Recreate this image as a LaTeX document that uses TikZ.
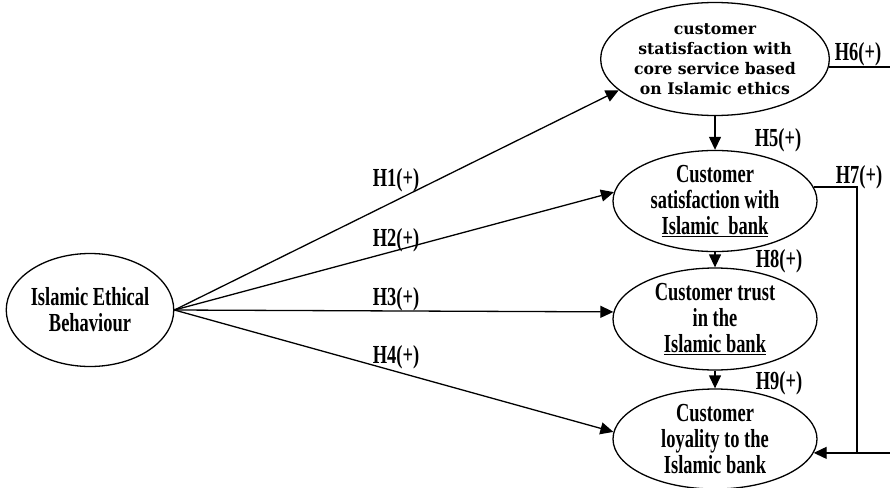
\documentclass[tikz,border=0pt]{standalone}
\usepackage{fontspec}
\newfontfamily\labelfont{Liberation Serif Bold}[FakeStretch=0.71]
\newfontfamily\widefont{DejaVu Serif Bold}[FakeStretch=0.98]
\usetikzlibrary{arrows.meta,shapes.geometric}

\tikzset{
  construct/.style={draw, ellipse, line width=1.3pt, inner sep=0pt, align=center,
    minimum width=204pt, font=\labelfont\fontsize{26}{26}\selectfont},
  hypo/.style={inner sep=0pt, font=\labelfont\fontsize{26}{26}\selectfont},
  link/.style={line width=1.3pt, -{Triangle[length=13pt,width=12pt]}},
  plain/.style={line width=1.3pt}
}

\begin{document}
\begin{tikzpicture}[x=1pt,y=-1pt]
			%%%%% FRAME %%%%%
			\path[use as bounding box] (0,0) rectangle (890,487);
			\clip (0,0) rectangle (890,487);
			
			%%%%% CONSTRUCTS %%%%%
			\node[construct, minimum width=164pt, minimum height=113pt] (ieb) at (90,310) {Islamic Ethical\\Behaviour};
			
			\node[construct, minimum height=113pt, font=\widefont\fontsize{16}{20}\selectfont] (core) at (715,59)
				{customer\\statisfaction with\\core service based\\on Islamic ethics};
			\node[construct, minimum height=96pt] (sat) at (715,201) {Customer\\satisfaction with\\\underline{Islamic\ \ bank}};
			\node[construct, minimum height=102pt] (trust) at (715,319) {Customer trust\\in the\\\underline{Islamic bank}};
			\node[construct, minimum height=100pt] (loyal) at (715,439) {Customer\\loyality to the\\Islamic bank};
			
			%%%%% DIRECT PATHS %%%%%
			\draw[link] (ieb.east) -- (core.198);
			\draw[link] (ieb.east) -- (sat.175);
			\draw[link] (ieb.east) -- (trust.176);
			\draw[link] (ieb.east) -- (loyal.176);
			
			\node[hypo] (h1) at (396,180) {H1(+)};
			\node[hypo] (h2) at (396,240) {H2(+)};
			\node[hypo] (h3) at (396,299) {H3(+)};
			\node[hypo] (h4) at (396,357) {H4(+)};
			
			%%%%% CHAIN %%%%%
			\draw[link] (core) -- (sat);
			\draw[link] (sat) -- (trust);
			\draw[link] (trust) -- (loyal);
			
			\node[hypo] (h5) at (778,140) {H5(+)};
			\node[hypo] (h8) at (779,261) {H8(+)};
			\node[hypo] (h9) at (779,383) {H9(+)};
			
			%%%%% SIDE PATHS %%%%%
			\coordinate (j7) at (857,0 |- loyal.-8);
			\draw[link] (core.-4) -- (core.-4 -| 900,0) |- (loyal.-8);
			\draw[plain] (sat.8) -| (j7);
			
			\node[hypo, anchor=south] (h6) at (858,66) {H6(+)};
			\node[hypo, anchor=south] (h7) at (859,189) {H7(+)};
			
			%%%%% END %%%%%
\end{tikzpicture}
\end{document}
